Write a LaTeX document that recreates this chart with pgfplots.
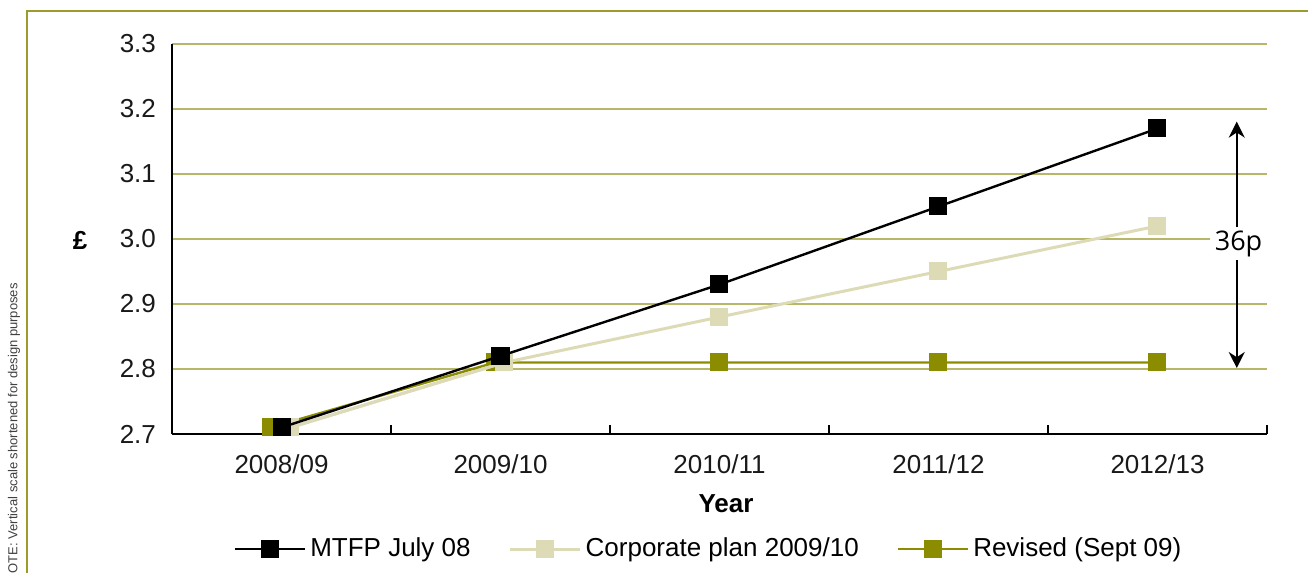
\documentclass[border=0pt]{standalone}
\usepackage{pgfplots}
\pgfplotsset{compat=1.18}
\usepackage{fontspec}
\setmainfont{Liberation Sans}
\newfontfamily\notefont{Open Sans}
\usetikzlibrary{arrows.meta}

\definecolor{olivemark}{HTML}{8C8C00}
\definecolor{creamline}{HTML}{DDDBB6}
\definecolor{gridolive}{HTML}{B8B668}
\definecolor{frameolive}{HTML}{9C9C2A}
\definecolor{firstseg}{HTML}{D2D2D2}

\begin{document}
\begin{tikzpicture}
  % page = 1308 x 573 px at 0.5pt per px
  \useasboundingbox (0,0) rectangle (654pt,286.5pt);

  % outer frame (top and left edges only)
  \draw[frameolive, line width=0.8pt] (13.5pt,0) -- (13.5pt,281pt) -- (654pt,281pt);

  \node[rotate=90, anchor=east, font=\fontsize{6.5}{7}\selectfont, text=black!75, inner sep=0pt]
    at (7pt,145pt) {NOTE: Vertical scale shortened for design purposes};

  \begin{axis}[
      at={(86pt,69.5pt)}, anchor=south west,
      width=547.5pt, height=195pt, scale only axis,
      xmin=-0.5, xmax=4.5,
      ymin=2.7, ymax=3.3,
      axis x line=bottom, axis y line=left,
      axis line style={black, line width=1pt, -},
      xtick={0,1,2,3,4},
      xticklabels={2008/09, 2009/10, 2010/11, 2011/12, 2012/13},
      minor xtick={0.5,1.5,2.5,3.5,4.5},
      xtick align=inside,
      major tick length=0pt,
      minor tick length=4.5pt,
      minor tick style={black, line width=1pt},
      ytick={2.7,2.8,2.9,3.0,3.1,3.2,3.3},
      ymajorgrids=true,
      grid style={gridolive, line width=0.6pt},
      tick label style={font=\fontsize{13}{15}\selectfont, text=black!90},
      yticklabel style={xshift=-4.5pt,
        /pgf/number format/fixed,
        /pgf/number format/fixed zerofill,
        /pgf/number format/precision=1},
      xticklabel style={yshift=-7pt},
      /pgf/number format/assume math mode=true,
      clip mode=individual,
      reverse legend,
      legend columns=3,
      legend style={at={(0.491,-0.295)}, anchor=center, draw=none, fill=none,
        font=\fontsize{13}{15}\selectfont,
        /tikz/every even column/.append style={column sep=17pt}},
      legend image code/.code={
        \draw[mark repeat=2, mark phase=2, #1]
          plot coordinates {(0pt,0pt) (17.5pt,0pt) (35pt,0pt)};
      },
    ]

    % Revised (Sept 09) -- drawn first, lies underneath
    \addplot[olivemark, line width=1.2pt, mark=square*, mark size=4.25pt,
      mark options={draw=olivemark, fill=olivemark, line width=0pt}]
      coordinates {(-0.050,2.71) (0.975,2.81) (2,2.81) (3,2.81) (4,2.81)};

    % Corporate plan 2009/10: first segment shows grey in the original
    \addplot[firstseg, line width=1.5pt, forget plot]
      coordinates {(0.041,2.71) (1.018,2.81)};
    \addplot[creamline, line width=1.5pt, mark=square*, mark size=4.25pt,
      mark options={draw=creamline, fill=creamline, line width=0pt}]
      coordinates {(0.041,2.71) (1.018,2.81) (2,2.88) (3,2.95) (4,3.02)};
    \addplot[only marks, creamline, mark=square*, mark size=4.25pt, forget plot,
      mark options={draw=creamline, fill=creamline, line width=0pt}]
      coordinates {(0.041,2.71) (1.018,2.81)};

    % MTFP July 08
    \addplot[black, line width=1.2pt, mark=square*, mark size=4.25pt,
      mark options={draw=black, fill=black, line width=0pt}]
      coordinates {(0,2.71) (1,2.82) (2,2.93) (3,3.05) (4,3.17)};

    \legend{Revised (Sept 09), Corporate plan 2009/10, MTFP July 08}

    % 36p gap marker
    \draw[black, line width=0.8pt, {Stealth[length=8pt,width=8pt]}-{Stealth[length=8pt,width=8pt]}]
      (axis cs:4.362,3.1805) -- (axis cs:4.362,2.8015);
    \node[fill=white, inner sep=0pt, minimum width=29pt, minimum height=16.5pt,
      font=\notefont\fontsize{13.5}{15}\selectfont]
      at (axis cs:4.37,2.993) {36p};
  \end{axis}

  \node[font=\bfseries\fontsize{13}{15}\selectfont] at (363pt,34.5pt) {Year};
  \node[font=\bfseries\fontsize{13}{15}\selectfont] at (40pt,166.5pt) {£};
\end{tikzpicture}
\end{document}
